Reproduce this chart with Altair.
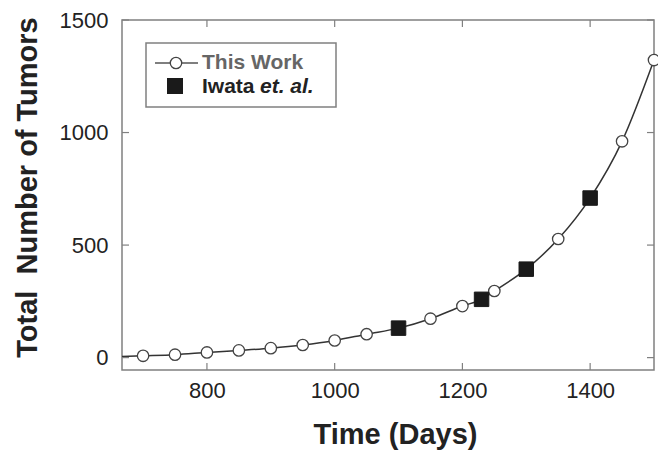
import altair as alt
import pandas as pd

# "This Work" (open circles)
work_days = [700, 750, 800, 850, 900, 950, 1000, 1050, 1150, 1200, 1250, 1350, 1450, 1500]
work_vals = [8, 13, 23, 32, 42, 56, 76, 104, 173, 229, 296, 527, 961, 1322]

# "Iwata et. al." (filled squares)
iwata_days = [1100, 1230, 1300, 1400]
iwata_vals = [131, 259, 393, 709]

# model curve
curve_days = [667, 700, 750, 800, 850, 900, 950, 1000, 1050, 1100, 1150, 1200, 1230, 1250, 1300, 1350, 1400, 1450, 1500]
curve_vals = [5, 8, 13, 23, 32, 42, 56, 76, 104, 131, 173, 229, 259, 296, 393, 527, 709, 961, 1322]

x_ticks = [800, 1000, 1200, 1400]
y_ticks = [0, 500, 1000, 1500]

W, H = 532, 350
FONT = "Liberation Sans"

xs = alt.Scale(domain=[667, 1500], nice=False, zero=False)
ys = alt.Scale(domain=[-55, 1500], nice=False, zero=False)

x_axis = alt.Axis(values=x_ticks, format="d", title="Time (Days)", ticks=False, tickSize=0, domain=False, grid=False,
                  labelFont=FONT, labelFontSize=22, labelColor="#222222", labelPadding=10,
                  titleFont=FONT, titleFontSize=29, titleFontWeight="bold", titleColor="#222222",
                  titleX=273, titleY=64, titleBaseline="middle", titleAlign="center")
y_axis = alt.Axis(values=y_ticks, format="d", title="Total\u00a0 Number of Tumors", ticks=False, tickSize=0,
                  domain=False, grid=False, labelFont=FONT, labelFontSize=22, labelColor="#222222", labelPadding=14,
                  titleFont=FONT, titleFontSize=29, titleFontWeight="bold", titleColor="#222222",
                  titleX=-95, titleY=167, titleBaseline="middle", titleAlign="center", titleAngle=-90)


def X(f):
    return alt.X(f, scale=xs, axis=x_axis)


def Y(f):
    return alt.Y(f, scale=ys, axis=y_axis)


work = pd.DataFrame({"day": work_days, "n": work_vals})
iwata = pd.DataFrame({"day": iwata_days, "n": iwata_vals})
curve = pd.DataFrame({"day": curve_days, "n": curve_vals})
xt = pd.DataFrame({"day": x_ticks})
yt = pd.DataFrame({"n": y_ticks})
one = pd.DataFrame({"k": [0]})

line = alt.Chart(curve).mark_line(color="#333333", strokeWidth=1.5, interpolate="monotone").encode(
    x=X("day:Q"), y=Y("n:Q"))

pts_work = alt.Chart(work).mark_point(shape="circle", filled=True, fill="white", stroke="#444444",
                                      strokeWidth=1.3, size=130, opacity=1).encode(x=X("day:Q"), y=Y("n:Q"))

pts_iwata = alt.Chart(iwata).mark_point(shape="square", filled=True, fill="#1a1a1a", stroke="#1a1a1a",
                                        strokeWidth=1, size=210, opacity=1).encode(x=X("day:Q"), y=Y("n:Q"))

tick_style = dict(color="#808080", strokeWidth=1.2)
tb = alt.Chart(xt).mark_rule(**tick_style).encode(x=X("day:Q"), y=alt.value(H), y2=alt.value(H - 7))
tt = alt.Chart(xt).mark_rule(**tick_style).encode(x=X("day:Q"), y=alt.value(0), y2=alt.value(7))
tl = alt.Chart(yt).mark_rule(**tick_style).encode(y=Y("n:Q"), x=alt.value(0), x2=alt.value(7))
tr = alt.Chart(yt).mark_rule(**tick_style).encode(y=Y("n:Q"), x=alt.value(W), x2=alt.value(W - 7))

# hand-drawn legend
lg_box = alt.Chart(one).mark_rect(fill="white", stroke="#808080", strokeWidth=1.5).encode(
    x=alt.value(24), x2=alt.value(214), y=alt.value(23), y2=alt.value(87))
lg_line = alt.Chart(one).mark_rule(color="#555555", strokeWidth=1.5).encode(
    x=alt.value(33), x2=alt.value(76), y=alt.value(43))
lg_circ = alt.Chart(one).mark_point(shape="circle", filled=True, fill="white", stroke="#444444",
                                    strokeWidth=1.3, size=130, opacity=1).encode(
    x=alt.value(54), y=alt.value(43))
lg_sq = alt.Chart(one).mark_point(shape="square", filled=True, fill="#1a1a1a", size=256, opacity=1).encode(
    x=alt.value(53), y=alt.value(66))
lg_t1 = alt.Chart(one).mark_text(text="This Work", font=FONT, fontSize=21, fontWeight="bold", color="#666666",
                                 align="left", baseline="middle").encode(x=alt.value(80), y=alt.value(43))
lg_t2 = alt.Chart(one).mark_text(text="Iwata", font=FONT, fontSize=21, fontWeight="bold", color="#222222",
                                 align="left", baseline="middle").encode(x=alt.value(80), y=alt.value(67))
lg_t3 = alt.Chart(one).mark_text(text="et. al.", font=FONT, fontSize=21, fontWeight="bold", fontStyle="italic",
                                 color="#222222", align="left", baseline="middle").encode(x=alt.value(138), y=alt.value(67))

chart = alt.layer(
    line, tb, tt, tl, tr, pts_work, pts_iwata,
    lg_box, lg_line, lg_circ, lg_sq, lg_t1, lg_t2, lg_t3,
).properties(
    width=W, height=H,
    autosize=alt.AutoSizeParams(type="none"),
    padding={"left": 114, "top": 12, "right": 4, "bottom": 81},
    background="white",
).configure_view(stroke="#808080", strokeWidth=1.5)

chart.save("out.html", embed_options={"renderer": "svg", "actions": False})
